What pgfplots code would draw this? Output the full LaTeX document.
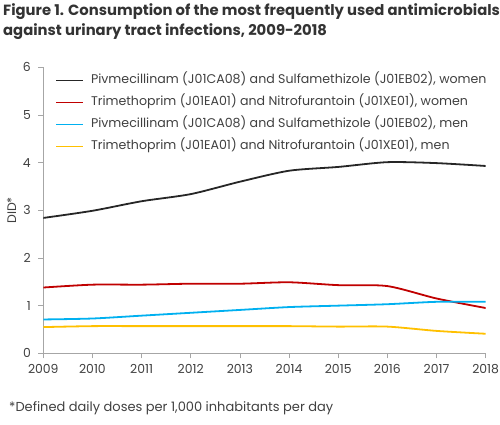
\documentclass[border=0pt]{standalone}
\usepackage{fontspec}
\setmainfont{Poppins}
\usepackage{pgfplots}
\pgfplotsset{compat=1.18}
\definecolor{cblack}{HTML}{262626}
\definecolor{cred}{HTML}{C00000}
\definecolor{cblue}{HTML}{00B0F0}
\definecolor{cyellow}{HTML}{FFC000}
\definecolor{txt}{HTML}{404040}
\definecolor{axgray}{HTML}{A6A6A6}
\definecolor{ttl}{HTML}{333333}
\begin{document}
\begin{tikzpicture}[x=1bp,y=1bp]
\useasboundingbox (0,0) rectangle (500,424);
\node[anchor=west,inner sep=0pt,text=ttl,font=\fontsize{14.8bp}{17bp}\selectfont\bfseries] at (3,412) {Figure 1. Consumption of the most frequently used antimicrobials};
\node[anchor=west,inner sep=0pt,text=ttl,font=\fontsize{14.8bp}{17bp}\selectfont\bfseries] at (3,392) {against urinary tract infections, 2009-2018};
\node[anchor=west,inner sep=0pt,text=txt,font=\fontsize{13bp}{15bp}\selectfont] at (9,16) {*Defined daily doses per 1,000 inhabitants per day};
\begin{axis}[
  at={(43.3bp,70.7bp)}, anchor=origin,
  scale only axis, width=442.4bp, height=286bp,
  xmin=2009, xmax=2018, ymin=0, ymax=6,
  axis lines=left, axis line style={-, draw=axgray, line width=0.8bp},
  xtick={2009,...,2018}, ytick={0,1,...,6},
  tick align=outside, major tick length=5bp,
  tick style={draw=axgray, line width=0.8bp},
  x tick label style={/pgf/number format/1000 sep={}, yshift=-3bp},
  y tick label style={xshift=-4bp},
  /pgf/number format/assume math mode=true,
  tick label style={font=\fontsize{12.4bp}{14bp}\selectfont, text=txt},
  ylabel={DID*}, ylabel style={font=\fontsize{12.4bp}{14bp}\selectfont, text=txt},
  legend style={draw=none, fill=none, at={(axis description cs:0,1)}, anchor=north west,
    xshift=11.7bp, yshift=-7bp, inner sep=0pt, row sep=10bp,
    font=\fontsize{12.6bp}{15bp}\selectfont, text=txt,
    nodes={inner sep=0pt, text height=9bp, text depth=3bp}},
  legend cell align=left,
  legend image code/.code={\draw[#1] (0bp,0bp) -- (27bp,0bp); \path (34bp,0bp);},
  every axis plot/.append style={line width=1.8bp, smooth, tension=0.45},
]
\addplot[cblack] coordinates {(2009,2.84)(2010,2.99)(2011,3.19)(2012,3.34)(2013,3.60)(2014,3.83)(2015,3.91)(2016,4.01)(2017,3.99)(2018,3.93)};
\addplot[cred] coordinates {(2009,1.38)(2010,1.44)(2011,1.44)(2012,1.46)(2013,1.46)(2014,1.49)(2015,1.43)(2016,1.41)(2017,1.15)(2018,0.95)};
\addplot[cblue] coordinates {(2009,0.71)(2010,0.73)(2011,0.79)(2012,0.85)(2013,0.91)(2014,0.97)(2015,1.00)(2016,1.03)(2017,1.08)(2018,1.08)};
\addplot[cyellow] coordinates {(2009,0.55)(2010,0.57)(2011,0.57)(2012,0.57)(2013,0.57)(2014,0.57)(2015,0.56)(2016,0.56)(2017,0.47)(2018,0.41)};
\legend{{Pivmecillinam (J01CA08) and Sulfamethizole (J01EB02), women},
{Trimethoprim (J01EA01) and Nitrofurantoin (J01XE01), women},
{Pivmecillinam (J01CA08) and Sulfamethizole (J01EB02), men},
{Trimethoprim (J01EA01) and Nitrofurantoin (J01XE01), men}}
\end{axis}
\end{tikzpicture}
\end{document}
